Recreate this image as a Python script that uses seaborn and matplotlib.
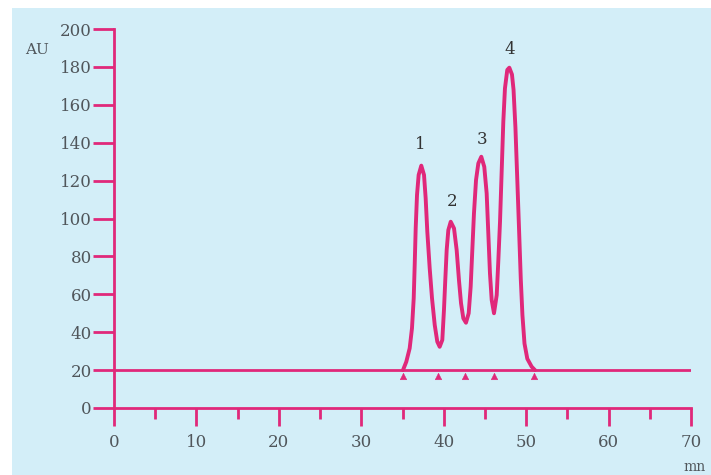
import numpy as np
import pandas as pd
import matplotlib.pyplot as plt
import seaborn as sns
from matplotlib.patches import Rectangle

# chromatogram trace (minutes, AU)
time_mn = [35.06, 35.46, 35.87, 36.15, 36.36, 36.48, 36.60, 36.76, 36.96, 37.28,
           37.61, 37.81, 38.01, 38.30, 38.58, 38.91, 39.22, 39.51, 39.83, 40.03,
           40.19, 40.36, 40.56, 40.85, 41.25, 41.57, 41.85, 42.10, 42.38, 42.70,
           43.03, 43.27, 43.47, 43.67, 43.92, 44.20, 44.56, 44.92, 45.21, 45.41,
           45.61, 45.82, 46.10, 46.43, 46.62, 46.83, 47.03, 47.23, 47.43, 47.71,
           47.96, 48.28, 48.47, 48.70, 48.93, 49.15, 49.35, 49.55, 49.80, 50.14,
           50.67, 51.07]
signal_au = [20, 24.4, 31.5, 42.1, 57.9, 75.5, 94.8, 112.4, 123.0, 127.9,
             123.0, 110.7, 93.0, 73.7, 57.9, 43.8, 35.0, 32.3, 35.9, 51.7,
             67.5, 83.4, 93.9, 98.3, 94.8, 83.4, 67.5, 55.3, 47.3, 45.0,
             50.0, 64.0, 83.4, 102.7, 120.3, 129.1, 132.6, 127.3, 113.3, 92.2,
             71.1, 57.0, 50.0, 59.6, 77.2, 98.3, 124.7, 151.1, 168.7, 178.4,
             179.6, 176, 168, 148, 120, 93, 68, 49, 34, 26,
             21.8, 20]

baseline_x = [0, 70]
baseline_y = [20, 20]

# integration marks below the baseline
mark_x = [35.0, 39.3, 42.6, 46.1, 51.0]
mark_y = [17, 17, 17, 17, 17]

peak_names = ["1", "2", "3", "4"]
peak_x = [37.2, 41.0, 44.6, 48.0]
peak_y = [139, 109, 141.5, 189]

pink = "#e0287a"
label_grey = "#50565b"

sns.set_style("ticks")
plt.rcParams["font.family"] = ["DejaVu Serif"]

fig = plt.figure(figsize=(7.11, 4.75), dpi=100)
fig.patch.set_facecolor("white")
fig.patches.append(Rectangle((12 / 711, 0), 1, 1 - 8 / 475, transform=fig.transFigure,
                             facecolor="#d3eef8", edgecolor="none", zorder=-10))

ax = fig.add_axes([114 / 711, 67 / 475, 577 / 711, 379 / 475])
ax.set_facecolor("none")

trace = pd.DataFrame({"time": time_mn, "au": signal_au})
sns.lineplot(data=trace, x="time", y="au", sort=False, color=pink, linewidth=2.8, ax=ax)
sns.lineplot(x=baseline_x, y=baseline_y, color=pink, linewidth=2, ax=ax)
sns.scatterplot(x=mark_x, y=mark_y, marker="^", s=22, color=pink, edgecolor=pink,
                ax=ax, zorder=3)

for name, px, py in zip(peak_names, peak_x, peak_y):
    ax.text(px, py, name, ha="center", va="center", fontsize=12, color="#333333")

ax.set_xlim(0, 70)
ax.set_ylim(0, 200)
ax.set_xticks(range(0, 71, 10))
ax.set_xticks(range(5, 70, 10), minor=True)
ax.set_yticks(range(0, 201, 20))
ax.set_xlabel("")
ax.set_ylabel("")

sns.despine(ax=ax)
for side in ["left", "bottom"]:
    ax.spines[side].set_color(pink)
    ax.spines[side].set_linewidth(2)

ax.tick_params(axis="y", direction="out", length=15, width=2, color=pink,
               labelsize=12, labelcolor=label_grey, pad=1)
ax.tick_params(axis="x", which="major", direction="out", length=13, width=2, color=pink,
               labelsize=12, labelcolor=label_grey, pad=6)
ax.tick_params(axis="x", which="minor", direction="out", length=8, width=2, color=pink)

fig.text(37 / 711, 1 - 50 / 475, "AU", ha="center", va="center", fontsize=11, color=label_grey)
fig.text(695 / 711, 1 - 467 / 475, "mn", ha="center", va="center", fontsize=10, color=label_grey)

fig.savefig("out.png", dpi=100)
